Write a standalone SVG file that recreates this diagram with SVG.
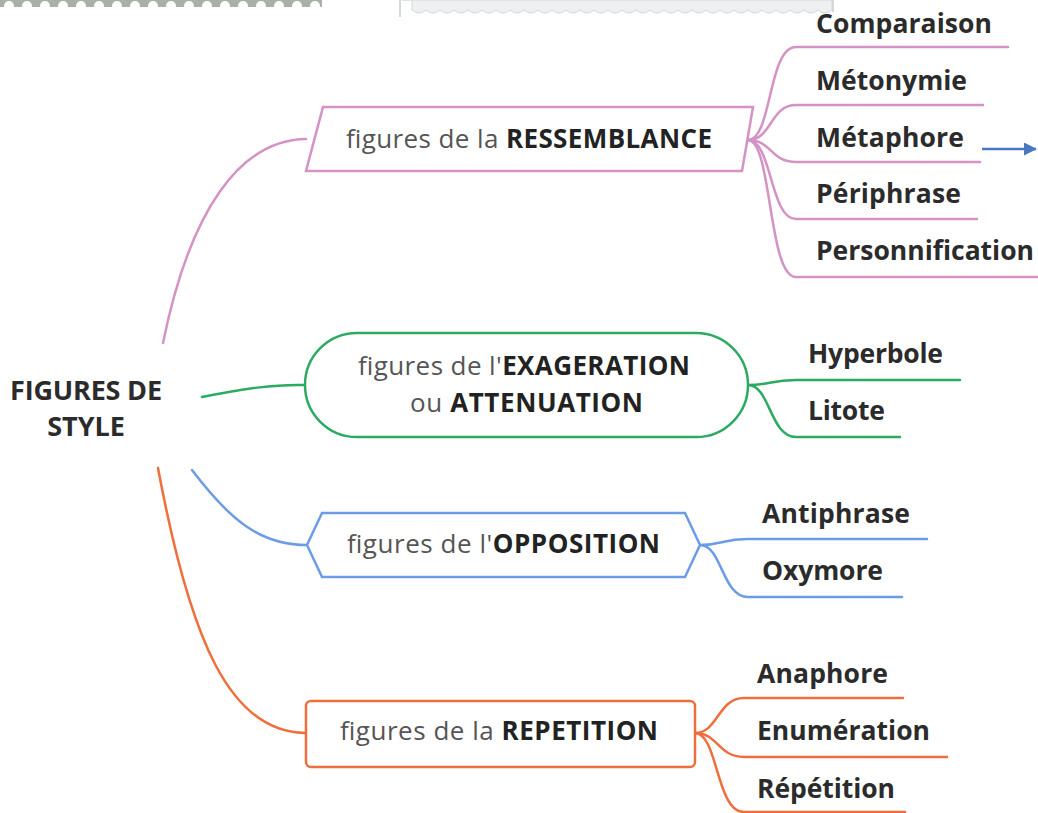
<svg xmlns="http://www.w3.org/2000/svg" width="1038" height="813" viewBox="0 0 1038 813">
<style>
.t{font-family:"Open Sans","Noto Sans","Liberation Sans",sans-serif}
.c{font-size:26.5px;font-weight:bold;fill:#2b2b2b}
.m{font-size:27px;font-weight:bold;fill:#2b2b2b}
.n{font-size:26px;fill:#555}
.b{font-weight:bold;fill:#222}
.ln{fill:none;stroke-width:2.5;stroke-linecap:round}
.pk{stroke:#d592c4}.gr{stroke:#2bab62}.bl{stroke:#6c9ce8}.or{stroke:#ef6f3c}
</style>
<defs>
<marker id="ah" markerWidth="13" markerHeight="13" refX="12" refY="6.5" orient="auto" markerUnits="userSpaceOnUse"><path d="M0,0 L13,6.5 L0,13 z" fill="#4a78c0"/></marker>
<pattern id="sc" width="18" height="8" patternUnits="userSpaceOnUse"><rect width="18" height="8" fill="#a8b0a8"/><ellipse cx="9" cy="6" rx="5" ry="5" fill="#fff"/></pattern>
</defs>
<g id="decor">
<rect x="0" y="0" width="322" height="7" fill="url(#sc)"/>
<path d="M400,0 V17 M833,0 V12" stroke="#c8ccd0" stroke-width="1.5"/>
<path d="M402,0 H832 V10 q-7,6 -14,0 q-7,6 -14,0 q-7,6 -14,0 q-7,6 -14,0 q-7,6 -14,0 q-7,6 -14,0 q-7,6 -14,0 q-7,6 -14,0 q-7,6 -14,0 q-7,6 -14,0 q-7,6 -14,0 q-7,6 -14,0 q-7,6 -14,0 q-7,6 -14,0 q-7,6 -14,0 q-7,6 -14,0 q-7,6 -14,0 q-7,6 -14,0 q-7,6 -14,0 q-7,6 -14,0 q-7,6 -14,0 q-7,6 -14,0 q-7,6 -14,0 q-7,6 -14,0 q-7,6 -14,0 q-7,6 -14,0 q-7,6 -14,0 q-7,6 -14,0 q-7,6 -14,0 q-7,6 -14,0 V0 z" fill="#eef0f2" stroke="#d4d8dc" stroke-width="1"/>
</g>
<g id="connectors">
<path class="ln pk" d="M163,343 C190,210 240,140 306,139"/>
<path class="ln gr" d="M202,397 C240,390 270,384 305,385"/>
<path class="ln bl" d="M192,470 C230,520 260,545 307,545"/>
<path class="ln or" d="M158,468 C190,640 230,733 306,733"/>
<path class="ln pk" d="M748,140 C772,140 768,47 796,47 H1008"/>
<path class="ln pk" d="M748,140 C772,140 770,105 796,105 H983"/>
<path class="ln pk" d="M748,140 C772,140 770,162 796,162 H980"/>
<path class="ln pk" d="M748,140 C772,140 770,219 796,219 H977"/>
<path class="ln pk" d="M748,140 C772,140 768,277 796,277 H1038"/>
<path class="ln gr" d="M748,385 C770,385 770,380 796,380 H960"/>
<path class="ln gr" d="M748,385 C770,385 770,437 796,437 H900"/>
<path class="ln bl" d="M700,545 C722,545 722,539 748,539 H927"/>
<path class="ln bl" d="M700,545 C722,545 722,597 748,597 H902"/>
<path class="ln or" d="M695,733 C718,733 718,698 744,698 H903"/>
<path class="ln or" d="M695,733 C718,733 718,757 744,757 H947"/>
<path class="ln or" d="M695,733 C718,733 716,812 744,812 H905"/>
<path d="M982,149 H1036" stroke="#4a78c0" stroke-width="2.5" marker-end="url(#ah)"/>
</g>
<g id="central">
<text class="t m" x="86" y="400" text-anchor="middle" textLength="152">FIGURES DE</text>
<text class="t m" x="86" y="436" text-anchor="middle">STYLE</text>
</g>
<g id="ressemblance">
<path d="M323,107 H753 L742,171 H306 Z" fill="#fff" stroke="#d592c4" stroke-width="2.5"/>
<text class="t n" x="346" y="148" textLength="366">figures de la <tspan class="b">RESSEMBLANCE</tspan></text>
</g>
<g id="exageration">
<rect x="305" y="333" width="443" height="104" rx="52" fill="#fff" stroke="#2bab62" stroke-width="2.5"/>
<text class="t n" x="358" y="375" textLength="332">figures de l'<tspan class="b">EXAGERATION</tspan></text>
<text class="t n" x="410" y="412" textLength="233">ou <tspan class="b">ATTENUATION</tspan></text>
</g>
<g id="opposition">
<path d="M307,545 L322,513 H685 L700,545 L685,577 H322 Z" fill="#fff" stroke="#6c9ce8" stroke-width="2.5"/>
<text class="t n" x="347" y="553" textLength="313">figures de l'<tspan class="b">OPPOSITION</tspan></text>
</g>
<g id="repetition">
<rect x="306" y="701" width="389" height="66" rx="5" fill="#fff" stroke="#ef6f3c" stroke-width="2.5"/>
<text class="t n" x="340" y="740" textLength="318">figures de la <tspan class="b">REPETITION</tspan></text>
</g>
<g id="leaf-comparaison"><text class="t c" x="816" y="33" textLength="176">Comparaison</text></g>
<g id="leaf-metonymie"><text class="t c" x="816" y="90" textLength="151">Métonymie</text></g>
<g id="leaf-metaphore"><text class="t c" x="816" y="147" textLength="148">Métaphore</text></g>
<g id="leaf-periphrase"><text class="t c" x="816" y="203" textLength="145">Périphrase</text></g>
<g id="leaf-personnification"><text class="t c" x="816" y="260" textLength="218">Personnification</text></g>
<g id="leaf-hyperbole"><text class="t c" x="808" y="363" textLength="135">Hyperbole</text></g>
<g id="leaf-litote"><text class="t c" x="808" y="420" textLength="77">Litote</text></g>
<g id="leaf-antiphrase"><text class="t c" x="762" y="523" textLength="148">Antiphrase</text></g>
<g id="leaf-oxymore"><text class="t c" x="762" y="580" textLength="121">Oxymore</text></g>
<g id="leaf-anaphore"><text class="t c" x="757" y="683" textLength="131">Anaphore</text></g>
<g id="leaf-enumeration"><text class="t c" x="757" y="740" textLength="173">Enumération</text></g>
<g id="leaf-repetition"><text class="t c" x="757" y="798" textLength="138">Répétition</text></g>
</svg>
